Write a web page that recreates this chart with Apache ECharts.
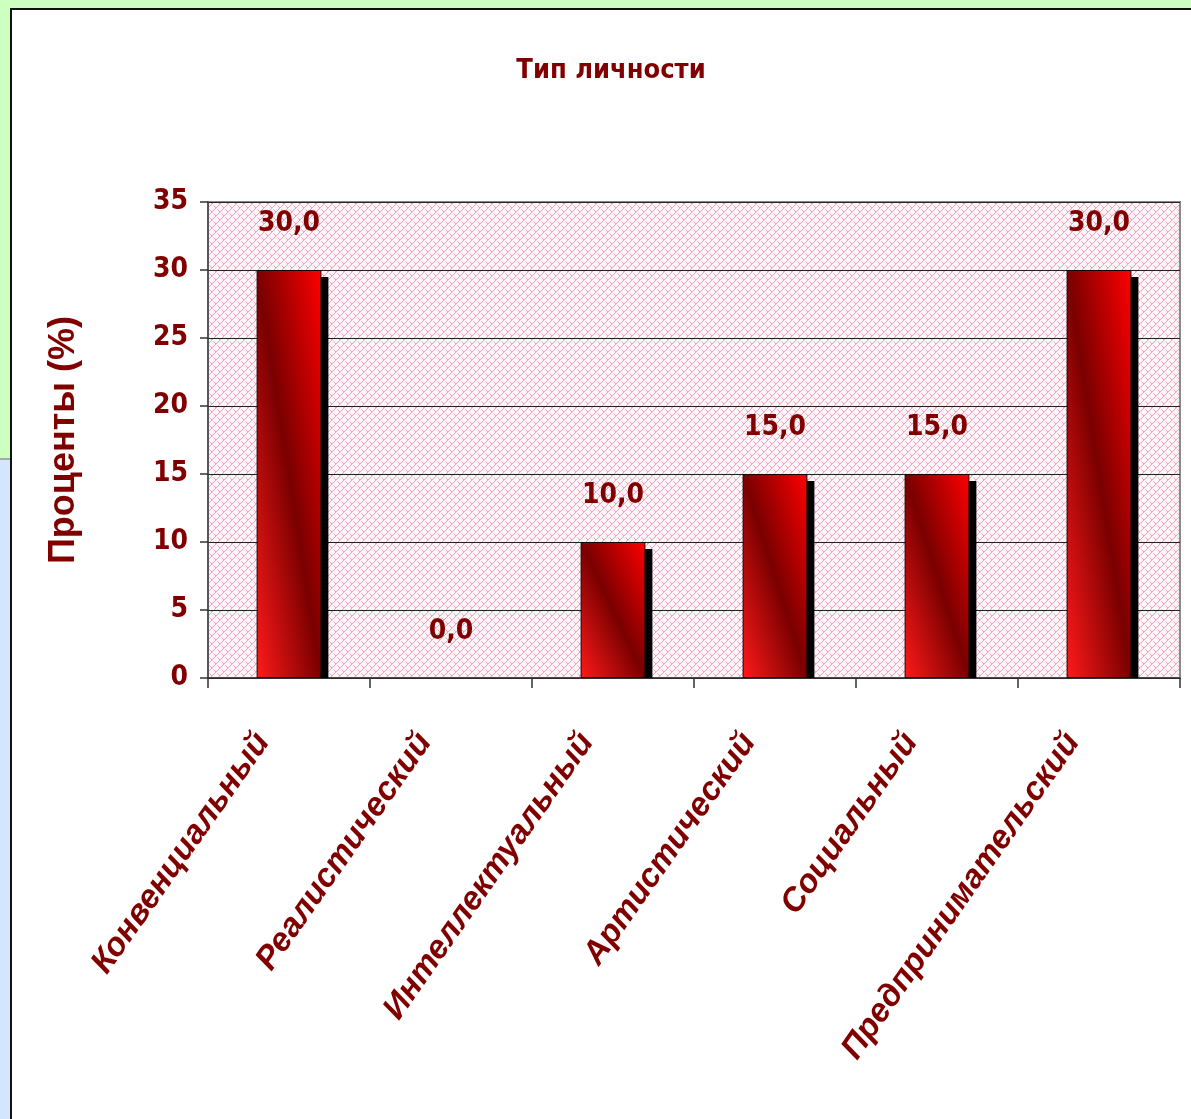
<!DOCTYPE html>
<html>
<head>
<meta charset="utf-8">
<script src="https://cdn.jsdelivr.net/npm/echarts@6/dist/echarts.min.js"></script>
<style>
html,body{margin:0;padding:0;width:1191px;height:1119px;overflow:hidden;background:#ffffff;}
#greenTop{position:absolute;left:0;top:0;width:1191px;height:8px;background:#ccffc0;}
#greenLeft{position:absolute;left:0;top:0;width:10px;height:458px;background:#ccffc0;border-bottom:2px solid #a8a8a8;}
#blueLeft{position:absolute;left:0;top:460px;width:10px;height:659px;background:#d4e6fb;}
#panel{position:absolute;left:10px;top:8px;width:1181px;height:1111px;background:#ffffff;border-left:2px solid #111;border-top:2px solid #111;box-sizing:border-box;}
#chart{position:absolute;left:0;top:0;width:1191px;height:1119px;}
</style>
</head>
<body>
<div id="greenTop"></div>
<div id="greenLeft"></div>
<div id="blueLeft"></div>
<div id="panel"></div>
<div id="chart"></div>
<script>
const titleText = 'Тип личности';
const yAxisName = 'Проценты (%)';
const categories = ['Конвенциальный', 'Реалистический', 'Интеллектуальный', 'Артистический', 'Социальный', 'Предпринимательский'];
const values = [30.0, 0.0, 10.0, 15.0, 15.0, 30.0];
const yTicks = [0, 5, 10, 15, 20, 25, 30, 35];

const DARK = '#800000';
const NARROW = "'Liberation Sans Narrow', 'Arial Narrow', 'DejaVu Sans Condensed', sans-serif";
const WIDE = "'Liberation Sans', Arial, 'DejaVu Sans', sans-serif";

// hatched pink background pattern (diagonal brick)
const tile = document.createElement('canvas');
tile.width = 8; tile.height = 8;
(function(){
  const c = tile.getContext('2d');
  c.fillStyle = '#fdf4f8';
  c.fillRect(0,0,8,8);
  c.strokeStyle = '#eaa0be';
  c.lineWidth = 1;
  c.beginPath();
  c.moveTo(-1,9); c.lineTo(9,-1);
  c.moveTo(-5,5); c.lineTo(5,-5);
  c.moveTo(3,13); c.lineTo(13,3);
  c.moveTo(1.5,1.5); c.lineTo(4,4);
  c.moveTo(5.5,5.5); c.lineTo(8,8);
  c.stroke();
})();

const BAR_W = 0.4;

function gradientFor(w, h) {
  if (h <= 0) return 'rgba(0,0,0,0)';
  const L2 = w*w + h*h;
  return new echarts.graphic.LinearGradient(0, 1, 2*h*h/L2, 1 - 2*w*w/L2, [
    {offset: 0, color: '#ff1a1a'},
    {offset: 0.5, color: '#7a0000'},
    {offset: 1, color: '#ff0000'}
  ]);
}

const chart = echarts.init(document.getElementById('chart'), null, {renderer: 'canvas'});

function buildOption(barData) {
  return {
    backgroundColor: 'transparent',
    animation: false,
    title: {
      text: titleText,
      left: 606,
      textAlign: 'center',
      top: 52,
      textStyle: {color: DARK, fontFamily: NARROW, fontWeight: 'bold', fontSize: 27}
    },
    grid: {
      left: 208, right: 11, top: 202, bottom: 441,
      show: true,
      backgroundColor: {image: tile, repeat: 'repeat'},
      borderColor: '#8a8a8a',
      borderWidth: 2
    },
    xAxis: {
      type: 'category',
      data: categories,
      axisLine: {lineStyle: {color: '#333', width: 1.5}},
      axisTick: {show: true, length: 10, lineStyle: {color: '#333', width: 1.5}},
      axisLabel: {
        rotate: 55,
        margin: 50,
        color: DARK,
        fontFamily: WIDE,
        fontWeight: 'bold',
        fontStyle: 'italic',
        fontSize: 33,
        verticalAlign: 'bottom',
        padding: [0, 22, 0, 0],
        interval: 0
      },
      splitLine: {show: false}
    },
    yAxis: {
      type: 'value',
      min: 0, max: 35, interval: 5,
      name: yAxisName,
      nameLocation: 'middle',
      nameGap: 126,
      nameRotate: 90,
      nameTextStyle: {color: DARK, fontFamily: WIDE, fontWeight: 'bold', fontSize: 36},
      axisLine: {show: true, lineStyle: {color: '#444', width: 1.5}},
      axisTick: {show: true, length: 8, lineStyle: {color: '#333', width: 1.5}},
      axisLabel: {
        color: DARK, fontFamily: NARROW, fontWeight: 'bold', fontSize: 28, margin: 20,
        formatter: function(v){ return yTicks.indexOf(v) >= 0 ? String(v) : ''; }
      },
      splitLine: {show: true, lineStyle: {color: '#222', width: 1}}
    },
    series: [
      {
        type: 'custom',
        z: 1,
        data: values.map((v, i) => [i, v]),
        renderItem: function(params, api) {
          const top = api.coord([api.value(0), api.value(1)]);
          const base = api.coord([api.value(0), 0]);
          const bw = api.size([1, 0])[0] * BAR_W;
          const off = 7;
          const h = base[1] - top[1] - off;
          if (h <= 0) return null;
          return {
            type: 'rect',
            shape: {x: top[0] - bw/2 + off, y: top[1] + off, width: bw, height: h},
            style: {fill: '#000000'}
          };
        }
      },
      {
        type: 'bar',
        z: 2,
        barWidth: (BAR_W*100) + '%',
        data: barData,
        itemStyle: {borderColor: '#1a0000', borderWidth: 1},
        label: {
          show: true,
          position: 'top',
          distance: 32,
          color: DARK,
          fontFamily: NARROW,
          fontWeight: 'bold',
          fontSize: 28,
          formatter: function(p){ return p.value.toFixed(1).replace('.', ','); }
        }
      }
    ]
  };
}

chart.setOption(buildOption(values.map(v => ({value: v}))));

const p0 = chart.convertToPixel({gridIndex: 0}, [0, 0]);
const p1 = chart.convertToPixel({gridIndex: 0}, [1, 0]);
const bandW = Math.abs(p1[0] - p0[0]);
const barData = values.map((v, i) => {
  const top = chart.convertToPixel({gridIndex: 0}, [i, v]);
  const base = chart.convertToPixel({gridIndex: 0}, [i, 0]);
  const h = Math.abs(base[1] - top[1]);
  const item = {value: v, itemStyle: {color: gradientFor(bandW * BAR_W, h)}};
  if (h <= 0) item.itemStyle.borderWidth = 0;
  return item;
});
chart.setOption(buildOption(barData));
</script>
</body>
</html>
